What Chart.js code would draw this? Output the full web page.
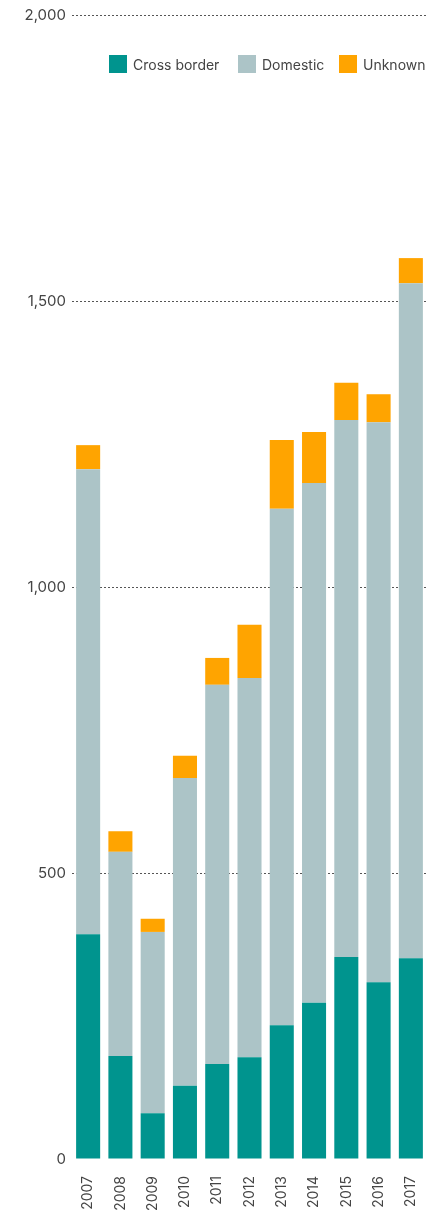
<!DOCTYPE html>
<html lang="en">
<head>
    <meta charset="UTF-8">
    <title>Cross border, domestic and unknown</title>
    <script src="https://cdnjs.cloudflare.com/ajax/libs/Chart.js/4.4.1/chart.umd.min.js"></script>
    <style>
        html, body { margin: 0; overflow: hidden; background: #fff; font-family: Inter, "Open Sans", sans-serif; }
        #wrap { position: relative; width: 432px; height: 1213px; }
        .item { position: absolute; top: 55px; display: flex; align-items: center; height: 18px; white-space: nowrap; font-size: 14px; color: #444; }
        .box { width: 18px; height: 18px; margin-right: 6px; flex: none; }
    </style>
</head>
<body>
    <div id="wrap">
        <canvas id="chart"></canvas>
    </div>

    <script>
        const years = ['2007', '2008', '2009', '2010', '2011', '2012', '2013', '2014', '2015', '2016', '2017'];
        const crossBorder = [393, 180, 80, 128, 166, 178, 234, 273, 353, 309, 351];
        const domestic = [813, 357, 317, 538, 663, 663, 903, 909, 939, 979, 1180];
        const unknown = [42, 36, 23, 39, 47, 93, 120, 89, 65, 49, 44];
        const yTicks = [0, 500, 1000, 1500, 2000];

        const series = [
            { label: 'Cross border', data: crossBorder, color: '#00948e' },
            { label: 'Domestic', data: domestic, color: '#acc4c7' },
            { label: 'Unknown', data: unknown, color: '#ffa400' }
        ];
        const legendX = [109, 238, 339];

        // html legend, sits inside the plot like the original
        const wrap = document.getElementById('wrap');
        series.forEach((s, i) => {
            const item = document.createElement('div');
            item.className = 'item';
            item.style.left = legendX[i] + 'px';
            item.innerHTML = '<span class="box" style="background:' + s.color + '"></span>' + s.label;
            wrap.appendChild(item);
        });

        const font = { family: 'Inter, "Open Sans", sans-serif', size: 14 };

        new Chart(document.getElementById('chart'), {
            type: 'bar',
            data: {
                labels: years,
                datasets: series.map(s => ({
                    label: s.label,
                    data: s.data,
                    backgroundColor: s.color,
                    borderWidth: 0,
                    categoryPercentage: 1,
                    barPercentage: 0.745
                }))
            },
            options: {
                responsive: true,
                maintainAspectRatio: false,
                animation: false,
                layout: { padding: { top: 15, right: 5, left: 0, bottom: 0 } },
                plugins: {
                    legend: { display: false },
                    tooltip: { enabled: false }
                },
                scales: {
                    x: {
                        stacked: true,
                        grid: { display: false, drawTicks: false },
                        border: { display: false },
                        ticks: {
                            color: '#444',
                            font: font,
                            minRotation: 90,
                            maxRotation: 90,
                            padding: 17,
                            autoSkip: false
                        },
                        afterFit: scale => {
                            scale.height = 54;
                            scale.paddingLeft = 0;
                            scale.paddingRight = 0;
                        }
                    },
                    y: {
                        stacked: true,
                        min: 0,
                        max: 2000,
                        afterBuildTicks: scale => { scale.ticks = yTicks.map(v => ({ value: v })); },
                        grid: {
                            color: ctx => ctx.tick && ctx.tick.value === 0 ? 'rgba(0,0,0,0)' : '#555',
                            drawTicks: false,
                            lineWidth: 1
                        },
                        border: { display: false, dash: [2, 2] },
                        ticks: {
                            color: '#444',
                            font: { family: font.family, size: 15 },
                            padding: 6,
                            callback: v => v.toLocaleString('en-US')
                        },
                        afterFit: scale => { scale.width = 72; }
                    }
                }
            }
        });
    </script>
</body>
</html>
